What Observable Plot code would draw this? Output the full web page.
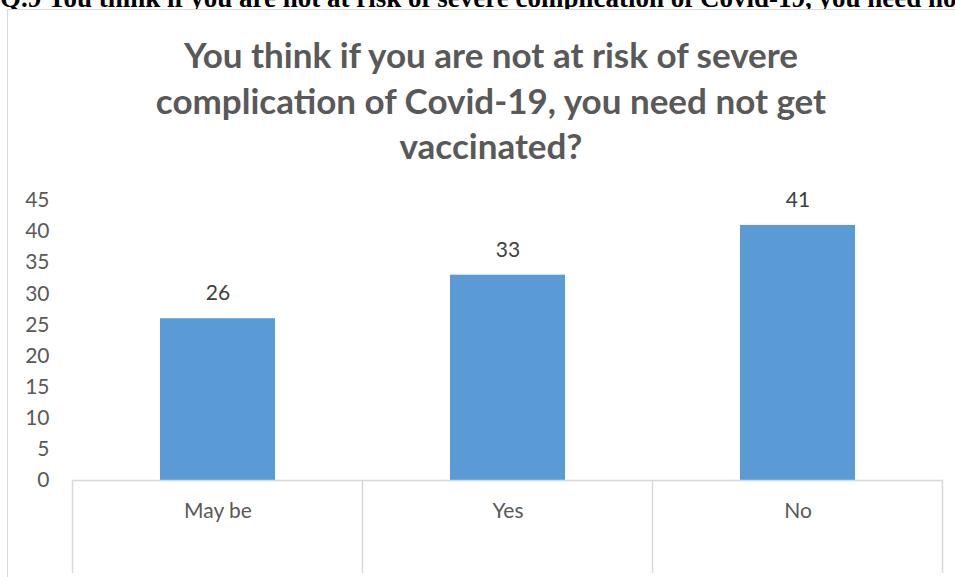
<!DOCTYPE html>
<html>
<head>
<meta charset="utf-8">
<script src="https://cdn.jsdelivr.net/npm/d3@7"></script>
<script src="https://cdn.jsdelivr.net/npm/@observablehq/plot@0.6"></script>
<style>
  html, body { margin: 0; padding: 0; background: #fff; width: 955px; height: 577px; overflow: hidden; position: relative; }
  #header { position: absolute; left: 0; top: -17px; white-space: nowrap; font-family: "Liberation Serif", "Times New Roman", serif; font-weight: bold; font-size: 27px; line-height: 31px; color: #000; }
  #frame { position: absolute; left: 7px; top: 9px; width: 1000px; height: 600px; border: 1.5px solid #d9d9d9; box-sizing: border-box; background: #fff; }
  #title { position: absolute; left: 0; width: 982px; top: 32px; text-align: center; font-family: Lato, "Open Sans", sans-serif; font-weight: bold; font-size: 35px; line-height: 45.5px; color: #595959; }
  #chart { position: absolute; left: 0; top: 0; }
</style>
</head>
<body>
<div id="header">Q.9 You think if you are not at risk of severe complication of Covid-19, you need not get vaccinated?</div>
<div id="frame"></div>
<div id="chart"></div>
<div id="title">You think if you are not at risk of severe<br>complication of Covid-19, you need not get<br>vaccinated?</div>
<script>
const categories = ["May be", "Yes", "No"];
const values = [26, 33, 41];
const yTicks = [0, 5, 10, 15, 20, 25, 30, 35, 40, 45];

const data = categories.map((c, i) => ({category: c, value: values[i]}));

const chart = Plot.plot({
  width: 955,
  height: 577,
  marginLeft: 72,
  marginRight: 12,
  marginTop: 200,
  marginBottom: 97,
  style: {fontFamily: "Lato, 'Open Sans', sans-serif", fontSize: "20px", color: "#595959", background: "transparent"},
  x: {domain: categories, paddingInner: 0.605, paddingOuter: 0.3025, label: null},
  y: {domain: [0, 45], ticks: yTicks, label: null},
  marks: [
    Plot.barY(data, {x: "category", y: "value", fill: "#5b9bd5"}),
    Plot.ruleY([0], {stroke: "#d9d9d9", strokeWidth: 1.5}),
    Plot.axisY({ticks: yTicks, tickSize: 0, tickPadding: 23, fontSize: 21, fill: "#595959", label: null}),
    Plot.axisX({tickSize: 0, tickPadding: 23, fontSize: 21, fill: "#595959", label: null}),
    Plot.text(data, {x: "category", y: "value", text: d => String(d.value), dy: -25, lineAnchor: "middle", fontSize: 21, fill: "#404040"})
  ]
});

document.getElementById("chart").appendChild(chart);

// category divider lines below the baseline, placed from the band scale
const xs = chart.scale("x");
const ys = chart.scale("y");
const svg = d3.select(chart);
const y0 = ys.apply(0);
const step = xs.step;
const left = xs.apply(categories[0]) - (step - xs.bandwidth) / 2;
const edges = d3.range(categories.length + 1).map(i => left + i * step);
svg.append("g")
  .selectAll("line")
  .data(edges)
  .join("line")
  .attr("x1", d => d).attr("x2", d => d)
  .attr("y1", y0).attr("y2", y0 + 93)
  .attr("stroke", "#d9d9d9")
  .attr("stroke-width", 1.5);
</script>
</body>
</html>
